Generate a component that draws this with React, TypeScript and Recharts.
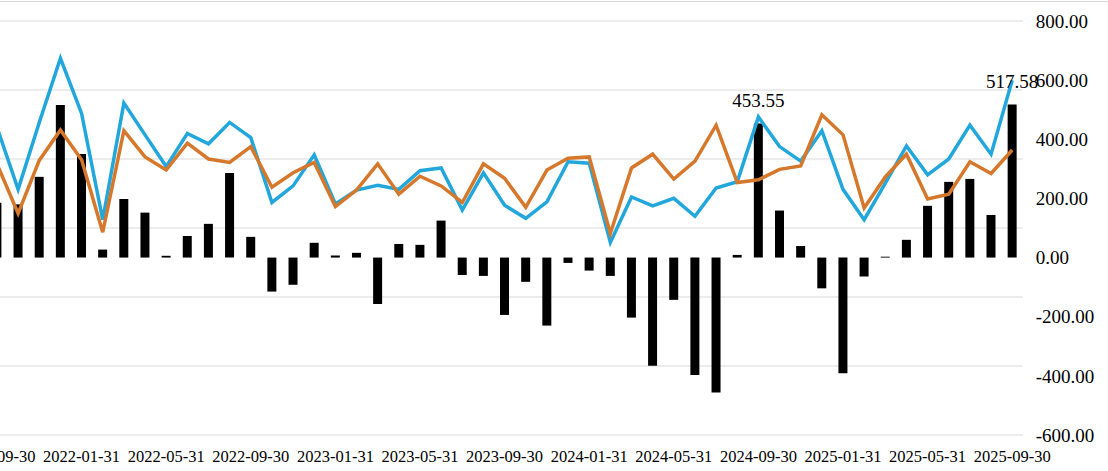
import React from "react";
import {
  ComposedChart,
  Bar,
  Line,
  XAxis,
  YAxis,
  CartesianGrid,
  LabelList,
} from "recharts";

const DATES = [
  "2021-09-30", "2021-10-31", "2021-11-30", "2021-12-31",
  "2022-01-31", "2022-02-28", "2022-03-31", "2022-04-30", "2022-05-31", "2022-06-30",
  "2022-07-31", "2022-08-31", "2022-09-30", "2022-10-31", "2022-11-30", "2022-12-31",
  "2023-01-31", "2023-02-28", "2023-03-31", "2023-04-30", "2023-05-31", "2023-06-30",
  "2023-07-31", "2023-08-31", "2023-09-30", "2023-10-31", "2023-11-30", "2023-12-31",
  "2024-01-31", "2024-02-29", "2024-03-31", "2024-04-30", "2024-05-31", "2024-06-30",
  "2024-07-31", "2024-08-31", "2024-09-30", "2024-10-31", "2024-11-30", "2024-12-31",
  "2025-01-31", "2025-02-28", "2025-03-31", "2025-04-30", "2025-05-31", "2025-06-30",
  "2025-07-31", "2025-08-31", "2025-09-30",
];

// black bars, right axis
const NET = [
  185, 180, 273, 516, 350, 27, 198, 152, 6, 73, 114, 286, 70, -115, -92, 50,
  7, 16, -157, 46, 43, 125, -59, -62, -194, -82, -230, -18, -44, -62, -203, -366,
  -143, -397, -456, 9, 453.55, 159, 39, -104, -391, -64, 3, 60, 175, 256, 266, 144,
  517.58,
];

// blue line, hidden left axis
const BLUE = [
  446, 356, 453, 546, 466, 312, 481, 435, 389, 437, 422, 453, 431, 337, 361, 406,
  335, 355, 362, 356, 383, 387, 326, 380, 333, 314, 338, 396, 394, 279, 345, 332,
  343, 317, 358, 367, 461, 418, 397, 441, 356, 312, 365, 419, 377, 400, 449, 407,
  514,
];

// orange line, hidden left axis
const ORANGE = [
  393, 321, 398, 442, 399, 294, 441, 403, 384, 423, 400, 395, 418, 359, 380, 395,
  331, 355, 393, 349, 375, 361, 337, 393, 372, 330, 384, 401, 403, 292, 387, 407,
  371, 397, 449, 366, 370, 385, 390, 464, 435, 329, 374, 407, 342, 349, 396, 379,
  413,
];

const RIGHT_TICKS = [-600, -400, -200, 0, 200, 400, 600, 800];
const LEFT_TICKS = [0, 100, 200, 300, 400, 500, 600];
const LABELED = ["2024-09-30", "2025-09-30"];

const data = DATES.map((d, i) => ({
  date: d,
  net: NET[i],
  blue: BLUE[i],
  orange: ORANGE[i],
}));

const FONT = "'Liberation Serif', 'Times New Roman', serif";

function PeakLabel(props: any) {
  const { x, y, width, index, value } = props;
  if (!LABELED.includes(DATES[index])) return null;
  return (
    <text
      x={x + width / 2}
      y={y - 23}
      dy="0.355em"
      textAnchor="middle"
      fontFamily={FONT}
      fontSize={19}
      fill="#000"
    >
      {Number(value).toFixed(2)}
    </text>
  );
}

export default function App() {
  return (
    <div
      style={{
        position: "fixed",
        left: 0,
        top: 0,
        width: 1108,
        height: 471,
        overflow: "hidden",
        background: "#fff",
      }}
    >
      <div
        style={{
          position: "absolute",
          left: 0,
          top: 1,
          width: 1108,
          borderTop: "1px solid #d9d9d9",
        }}
      />
      <div style={{ position: "absolute", left: -100, top: 0 }}>
        <ComposedChart
          width={1208}
          height={471}
          data={data}
          margin={{ top: 21, right: 0, bottom: 6, left: 86.4 }}
          barCategoryGap={0}
        >
          <CartesianGrid
            yAxisId="left"
            vertical={false}
            stroke="#d9d9d9"
            strokeWidth={1}
          />
          <XAxis
            dataKey="date"
            interval={3}
            axisLine={false}
            tickLine={false}
            tickSize={6}
            tickMargin={9}
            height={30}
            tick={{ fontFamily: FONT, fontSize: 16.5, fill: "#000" }}
          />
          <YAxis
            yAxisId="left"
            hide
            domain={[0, 600]}
            ticks={LEFT_TICKS}
          />
          <YAxis
            yAxisId="right"
            orientation="right"
            domain={[-600, 800]}
            ticks={RIGHT_TICKS}
            tickFormatter={(v: number) => v.toFixed(2)}
            axisLine={false}
            tickLine={false}
            tickSize={6}
            tickMargin={7}
            width={85.2}
            tick={{ fontFamily: FONT, fontSize: 19, fill: "#000", textAnchor: "start" }}
          />
          <Bar
            yAxisId="right"
            dataKey="net"
            fill="#000"
            barSize={9}
            isAnimationActive={false}
          >
            <LabelList dataKey="net" content={PeakLabel} />
          </Bar>
          <Line
            yAxisId="left"
            type="linear"
            dataKey="blue"
            stroke="#22A7DC"
            strokeWidth={3.5}
            dot={false}
            isAnimationActive={false}
          />
          <Line
            yAxisId="left"
            type="linear"
            dataKey="orange"
            stroke="#D6782C"
            strokeWidth={3.5}
            dot={false}
            isAnimationActive={false}
          />
        </ComposedChart>
      </div>
    </div>
  );
}
